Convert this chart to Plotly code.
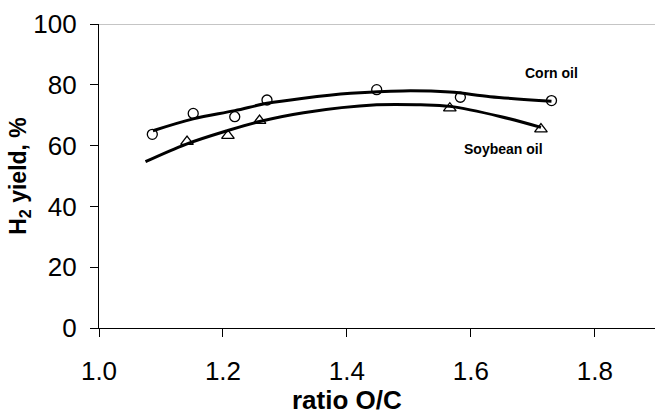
import plotly.graph_objects as go

# measured points
corn_x = [1.086, 1.152, 1.219, 1.271, 1.448, 1.583, 1.730]
corn_y = [63.7, 70.6, 69.5, 75.0, 78.4, 75.9, 74.8]
soy_x = [1.142, 1.208, 1.259, 1.566, 1.713]
soy_y = [61.3, 63.3, 68.2, 72.3, 65.4]

# trend curves
corn_fit_x = [1.087, 1.152, 1.219, 1.271, 1.330, 1.406, 1.490, 1.566, 1.631, 1.730]
corn_fit_y = [64.9, 68.8, 71.5, 73.9, 75.6, 77.2, 78.0, 77.6, 76.1, 74.6]
soy_fit_x = [1.075, 1.141, 1.207, 1.259, 1.330, 1.448, 1.519, 1.566, 1.647, 1.713]
soy_fit_y = [54.7, 60.5, 64.9, 67.9, 70.8, 73.4, 73.4, 72.9, 69.6, 66.0]

font = "Liberation Sans, Arial, sans-serif"

fig = go.Figure()

fig.add_trace(go.Scatter(x=corn_fit_x, y=corn_fit_y, mode="lines", line_shape="spline",
                         line=dict(color="black", width=3), showlegend=False))
fig.add_trace(go.Scatter(x=soy_fit_x, y=soy_fit_y, mode="lines", line_shape="spline",
                         line=dict(color="black", width=3), showlegend=False))
fig.add_trace(go.Scatter(x=corn_x, y=corn_y, mode="markers",
                         marker=dict(symbol="circle-open", size=10, color="black", line=dict(width=1.3)),
                         showlegend=False))
fig.add_trace(go.Scatter(x=soy_x, y=soy_y, mode="markers",
                         marker=dict(symbol="triangle-up-open", size=11, color="black", line=dict(width=1.3)),
                         showlegend=False))

fig.add_annotation(x=1.730, y=83.8, text="<b>Corn oil</b>", showarrow=False,
                   font=dict(family=font, size=14, color="black"))
fig.add_annotation(x=1.652, y=58.9, text="<b>Soybean oil</b>", showarrow=False,
                   font=dict(family=font, size=14, color="black"))

# x axis title placed by hand so it sits at the very bottom like the original
fig.add_annotation(xref="x", yref="paper", x=1.4, y=-0.238, yanchor="middle",
                   text="<b>ratio O/C</b>", showarrow=False,
                   font=dict(family=font, size=26, color="black"))

# thin grey line along the top
fig.add_shape(type="line", xref="paper", yref="y", x0=0, x1=1, y0=100, y1=100,
              line=dict(color="#8c8c8c", width=1))

fig.update_layout(
    width=655, height=413,
    margin=dict(l=99, r=0, t=24, b=85),
    plot_bgcolor="white", paper_bgcolor="white",
    font=dict(family=font, color="black"),
    xaxis=dict(
        range=[1.0, 1.897], dtick=0.2, tick0=1.0, tickformat=".1f",
        showgrid=False, zeroline=False, automargin=False,
        showline=True, linecolor="black", linewidth=1.3,
        ticks="outside", ticklen=8, tickcolor="black", tickwidth=1,
        tickfont=dict(size=26), ticklabelstandoff=12,
    ),
    yaxis=dict(
        range=[0, 100], dtick=20,
        showgrid=False, zeroline=False, automargin=False,
        showline=True, linecolor="black", linewidth=1.3,
        ticks="outside", ticklen=8, tickcolor="black", tickwidth=1,
        tickfont=dict(size=26), ticklabelstandoff=8,
        title=dict(text="<b>H<sub>2</sub> yield, %</b>", font=dict(size=23), standoff=0),
    ),
)

fig.write_html("out.html", config={"displayModeBar": False},
               post_script="document.body.style.margin='0';")
